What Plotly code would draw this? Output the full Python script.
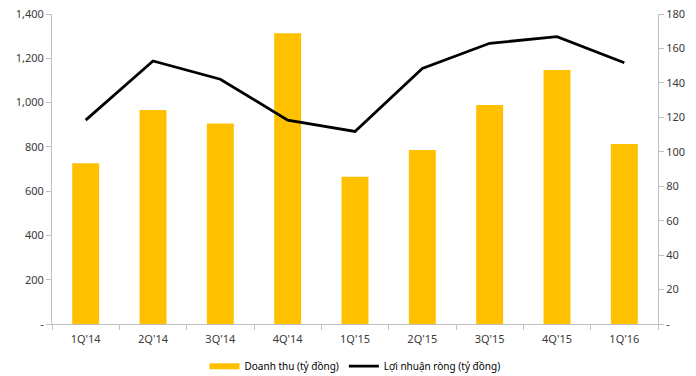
import plotly.graph_objects as go

quarters = ["1Q'14", "2Q'14", "3Q'14", "4Q'14", "1Q'15", "2Q'15", "3Q'15", "4Q'15", "1Q'16"]
revenue = [726, 966, 906, 1313, 665, 786, 989, 1147, 813]
net_profit = [118.4, 152.7, 142.1, 118.4, 111.8, 148.4, 163.0, 166.8, 151.7]

left_ticks = [0, 200, 400, 600, 800, 1000, 1200, 1400]
left_labels = ["-", "200", "400", "600", "800", "1,000", "1,200", "1,400"]
right_ticks = [0, 20, 40, 60, 80, 100, 120, 140, 160, 180]
right_labels = ["-", "20", "40", "60", "80", "100", "120", "140", "160", "180"]

FONT = "Noto Sans"
GOLD = "#FFC000"
AXIS_COLOR = "#bfbfbf"
TEXT_COLOR = "#3a3a3a"

fig = go.Figure()
fig.add_trace(go.Bar(
    x=quarters, y=revenue, name="Doanh thu (tỷ đồng)",
    marker=dict(color=GOLD, line=dict(width=0)),
    width=0.4, yaxis="y", showlegend=False,
))
# wide flat swatch for the revenue series in the legend
fig.add_trace(go.Scatter(
    x=[None], y=[None], name="Doanh thu (tỷ đồng)",
    mode="lines", line=dict(color=GOLD, width=6), yaxis="y",
))
fig.add_trace(go.Scatter(
    x=quarters, y=net_profit, name="Lợi nhuận ròng (tỷ đồng)",
    mode="lines", line=dict(color="#000000", width=2.8),
    yaxis="y2",
))

fig.update_layout(
    width=696, height=376,
    margin=dict(l=52, r=38, t=14, b=52, autoexpand=False),
    paper_bgcolor="white", plot_bgcolor="white",
    font=dict(family=FONT, size=11, color=TEXT_COLOR),
    xaxis=dict(
        type="category", showline=True, linecolor=AXIS_COLOR, linewidth=1,
        ticks="outside", tickson="boundaries", ticklen=5, tickcolor=AXIS_COLOR,
        ticklabelstandoff=5, automargin=False,
        showgrid=False, tickfont=dict(size=11, color=TEXT_COLOR),
    ),
    yaxis=dict(
        range=[0, 1400], tickvals=left_ticks, ticktext=left_labels,
        showline=True, linecolor=AXIS_COLOR, linewidth=1,
        ticks="outside", ticklen=5, tickcolor=AXIS_COLOR, automargin=False,
        showgrid=False, zeroline=False, tickfont=dict(size=11, color=TEXT_COLOR),
    ),
    yaxis2=dict(
        range=[0, 180], tickvals=right_ticks, ticktext=right_labels,
        overlaying="y", side="right",
        showline=True, linecolor=AXIS_COLOR, linewidth=1,
        ticks="outside", ticklen=5, tickcolor=AXIS_COLOR, automargin=False,
        showgrid=False, zeroline=False, tickfont=dict(size=11, color=TEXT_COLOR),
    ),
    legend=dict(
        orientation="h", x=0.5, xanchor="center",
        yref="container", y=0.026, yanchor="middle",
        font=dict(size=10, color="#000000"), bgcolor="rgba(0,0,0,0)",
        itemwidth=30,
    ),
    showlegend=True,
)

fig.write_html("out.html")
